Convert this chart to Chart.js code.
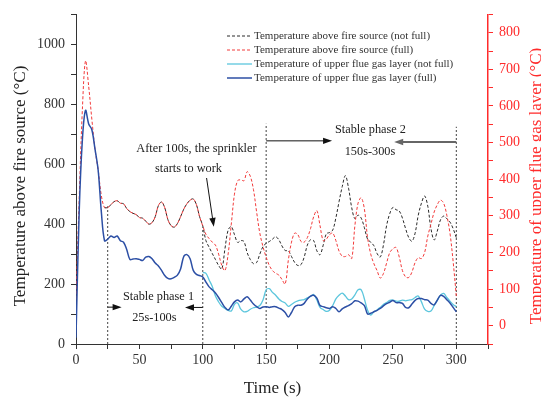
<!DOCTYPE html>
<html>
<head>
<meta charset="utf-8">
<script src="https://cdn.jsdelivr.net/npm/chart.js@4"></script>
<style>
  html, body { margin: 0; padding: 0; background: #fff; }
  #wrap { width: 541px; height: 398px; }
</style>
</head>
<body>
<div id="wrap"><canvas id="chart" width="541" height="398"></canvas></div>
<script>
// sampling times (s)
const time = [
  0, 2.5, 5, 7.5, 10, 12.5, 15, 17.5, 20, 22.5,
  25, 27.5, 30, 32.5, 35, 37.5, 40, 42.5, 45, 47.5,
  50, 52.5, 55, 57.5, 60, 62.5, 65, 67.5, 70, 72.5,
  75, 77.5, 80, 82.5, 85, 87.5, 90, 92.5, 95, 97.5,
  100, 102.5, 105, 107.5, 110, 112.5, 115, 117.5, 120, 122.5,
  125, 127.5, 130, 132.5, 135, 137.5, 140, 142.5, 145, 147.5,
  150, 152.5, 155, 157.5, 160, 162.5, 165, 167.5, 170, 172.5,
  175, 177.5, 180, 182.5, 185, 187.5, 190, 192.5, 195, 197.5,
  200, 202.5, 205, 207.5, 210, 212.5, 215, 217.5, 220, 222.5,
  225, 227.5, 230, 232.5, 235, 237.5, 240, 242.5, 245, 247.5,
  250, 252.5, 255, 257.5, 260, 262.5, 265, 267.5, 270, 272.5,
  275, 277.5, 280, 282.5, 285, 287.5, 290, 292.5, 295, 297.5,
  300
]

// temperature above fire source, left axis (°C)
const fireNotFull = [
  null, null, null, null, null, null, null, null, null, 455,
  455, 465, 475, 478, 470, 468, 452, 442, 436, 432,
  422, 420, 410, 400, 405, 425, 462, 474, 455, 415,
  395, 390, 402, 425, 450, 468, 480, 484, 465, 425,
  394, 345, 323, 302, 282, 262, 250, 318, 380, 392,
  365, 339, 345, 342, 305, 282, 268, 272, 300, 325,
  336, 342, 350, 358, 348, 327, 312, 311, 292, 272,
  262, 265, 290, 330, 348, 345, 311, 298, 330, 368,
  372, 380, 421, 475, 525, 562, 520, 455, 418, 430,
  420, 388, 350, 340, 328, 302, 290, 330, 395, 435,
  456, 448, 444, 420, 385, 355, 343, 370, 430, 470,
  494, 460, 385, 347, 377, 414, 427, 418, 407, 385,
  355
]
const fireFull = [
  150, 480, 780, 945, 860, 750, 650, 580, 495, 455,
  455, 465, 475, 478, 470, 468, 452, 442, 436, 432,
  422, 420, 410, 400, 405, 425, 462, 474, 455, 415,
  395, 390, 402, 425, 450, 468, 480, 484, 465, 425,
  394, 366, 352, 340, 330, 300, 262, 245, 300, 400,
  500, 545, 548, 545, 575, 560, 515, 440, 370, 325,
  290, 262, 245, 236, 230, 215, 200, 280, 340, 370,
  365, 342, 340, 355, 385, 425, 445, 395, 345, 350,
  365, 370, 345, 310, 293, 292, 298, 285, 395, 470,
  488, 450, 355, 300, 268, 245, 220, 235, 270, 305,
  318, 322, 290, 245, 224, 222, 240, 272, 288, 285,
  305, 360, 400, 440, 465, 480, 470, 430, 370, 275,
  160
]

// temperature of upper flue gas layer, right axis (°C)
const gasNotFull = [
  null, null, null, null, null, null, null, null, null, null,
  null, null, null, null, null, null, null, null, null, null,
  null, null, null, null, null, null, null, null, null, null,
  null, null, null, null, null, null, null, null, null, null,
  145, 143, 125, 107, 81, 65, 53, 47, 42, 40,
  58, 62, 45, 38, 39, 45, 49, 51, 55, 70,
  98, 101, 91, 83, 73, 66, 62, 53, 58, 64,
  68, 70, 71, 76, 80, 85, 70, 50, 44, 39,
  42, 55, 73, 83, 89, 81, 71, 73, 84, 98,
  98, 73, 42, 29, 38, 43, 50, 58, 63, 69,
  70, 67, 67, 70, 68, 70, 71, 77, 81, 65,
  45, 39, 40, 55, 69, 83, 88, 77, 67, 58,
  52
]
const gasFull = [
  -33, 310, 506, 588, 551, 535, 482, 424, 310, 232,
  236, 245, 241, 245, 232, 228, 208, 181, 182, 183,
  181, 178, 187, 189, 183, 171, 163, 151, 137, 129,
  128, 132, 138, 155, 189, 194, 183, 151, 140, 137,
  133, 119, 106, 98, 89, 77, 63, 50, 43, 53,
  65, 70, 65, 73, 79, 70, 59, 52, 47, 51,
  52, 50, 52, 52, 48, 44, 36, 24, 36, 52,
  56, 56, 61, 73, 81, 83, 75, 55, 52, 49,
  47, 52, 47, 38, 46, 51, 55, 60, 68, 67,
  62, 55, 32, 34, 38, 42, 47, 54, 60, 64,
  69, 63, 63, 61, 50, 49, 59, 69, 74, 74,
  71, 70, 61, 57, 70, 83, 80, 71, 62, 50,
  38
]

const seriesLabels = [
  'Temperature above fire source (not full)',
  'Temperature above fire source (full)',
  'Temperature of upper flue gas layer (not full)',
  'Temperature of upper flue gas layer (full)'
]

// phase boundaries: time and how high the dotted line goes (left axis)
const phaseTimes = [25, 100, 150, 300]
const phaseTops = [460, 390, 735, 725]

const serif = "'Liberation Serif', 'Times New Roman', serif"
const red = '#ff2b2b'
const ink = '#333'

const pts = (arr) => arr.map((v, i) => ({ x: time[i], y: v }))

const datasets = [
    {
        label: seriesLabels[0],
        data: pts(fireNotFull),
        borderColor: '#2a2a2a',
        borderDash: [3, 2],
        yAxisID: 'y',
        order: 4
    },
    {
        label: seriesLabels[1],
        data: pts(fireFull),
        borderColor: '#f23a3a',
        borderDash: [3, 2],
        yAxisID: 'y',
        order: 3
    },
    {
        label: seriesLabels[2],
        data: pts(gasNotFull),
        borderColor: '#5cc6dd',
        borderWidth: 1.3,
        yAxisID: 'y1',
        order: 2
    },
    {
        label: seriesLabels[3],
        data: pts(gasFull),
        borderColor: '#2c4fa5',
        borderWidth: 1.5,
        yAxisID: 'y1',
        order: 1
    }
]

phaseTimes.forEach((t, i) => {
    datasets.push({
        label: 'phase' + i,
        data: [{ x: t, y: 0 }, { x: t, y: phaseTops[i] }],
        borderColor: '#444',
        borderWidth: 1,
        borderDash: [2, 2],
        yAxisID: 'y',
        tension: 0,
        order: 5
    })
})

// text notes and arrows, positioned in data units of x / left y axis
const notes = [
    { text: 'After 100s, the sprinkler', x: 95, y: 652 },
    { text: 'starts to work', x: 88.7, y: 584 },
    { text: 'Stable phase 1', x: 65.1, y: 157 },
    { text: '25s-100s', x: 61.8, y: 88 },
    { text: 'Stable phase 2', x: 232.3, y: 714 },
    { text: '150s-300s', x: 231.9, y: 642 }
]
const arrows = [
    { from: [103, 554], to: [108.7, 391], color: '#111', width: 1 },
    { from: [25, 123], to: [36, 123], color: '#111', width: 1 },
    { from: [100, 122], to: [86, 122], color: '#111', width: 1 },
    { from: [150, 678], to: [202, 678], color: '#111', width: 1 },
    { from: [300, 674], to: [251, 674], color: '#666', width: 2 }
]

function drawArrow (ctx, x1, y1, x2, y2, color, width) {
    const ang = Math.atan2(y2 - y1, x2 - x1)
    const len = 9
    const half = 3.2
    ctx.strokeStyle = color
    ctx.fillStyle = color
    ctx.lineWidth = width
    ctx.beginPath()
    ctx.moveTo(x1, y1)
    ctx.lineTo(x2 - Math.cos(ang) * len * 0.8, y2 - Math.sin(ang) * len * 0.8)
    ctx.stroke()
    ctx.beginPath()
    ctx.moveTo(x2, y2)
    ctx.lineTo(x2 - Math.cos(ang) * len - Math.sin(ang) * half, y2 - Math.sin(ang) * len + Math.cos(ang) * half)
    ctx.lineTo(x2 - Math.cos(ang) * len + Math.sin(ang) * half, y2 - Math.sin(ang) * len - Math.cos(ang) * half)
    ctx.closePath()
    ctx.fill()
}

const extras = {
    id: 'extras',
    afterDatasetsDraw (chart) {
        const ctx = chart.ctx
        const xs = chart.scales.x
        const ys = chart.scales.y
        ctx.save()

        // notes
        ctx.fillStyle = '#222'
        ctx.font = '12.3px ' + serif
        ctx.textAlign = 'center'
        ctx.textBaseline = 'middle'
        notes.forEach(n => {
            ctx.fillText(n.text, xs.getPixelForValue(n.x), ys.getPixelForValue(n.y))
        })
        arrows.forEach(a => {
            drawArrow(ctx,
                xs.getPixelForValue(a.from[0]), ys.getPixelForValue(a.from[1]),
                xs.getPixelForValue(a.to[0]), ys.getPixelForValue(a.to[1]),
                a.color, a.width)
        })

        // legend
        ctx.font = '11px ' + serif
        ctx.textAlign = 'left'
        const rowY = [36, 50, 64, 78]
        for (let i = 0; i < 4; i++) {
            const ds = chart.data.datasets[i]
            ctx.strokeStyle = ds.borderColor
            ctx.lineWidth = ds.borderWidth || 1
            ctx.setLineDash(ds.borderDash || [])
            ctx.beginPath()
            ctx.moveTo(227, rowY[i])
            ctx.lineTo(252, rowY[i])
            ctx.stroke()
            ctx.setLineDash([])
            ctx.fillStyle = '#333'
            ctx.fillText(ds.label, 254, rowY[i])
        }

        // axis titles
        ctx.textAlign = 'center'
        ctx.font = '17px ' + serif
        ctx.fillStyle = '#222'
        ctx.fillText('Time (s)', 272.5, 389)

        ctx.save()
        ctx.translate(21, 186)
        ctx.rotate(-Math.PI / 2)
        ctx.fillText('Temperature above fire source (°C)', 0, 0)
        ctx.restore()

        ctx.save()
        ctx.translate(537, 186)
        ctx.rotate(-Math.PI / 2)
        ctx.fillStyle = red
        ctx.fillText('Temperature of upper flue gas layer (°C)', 0, 0)
        ctx.restore()

        ctx.restore()
    }
}

const tickFont = { family: serif, size: 14 }

const crt = document.getElementById('chart')

new Chart(crt, {
    type: 'line',
    data: { datasets: datasets },
    options: {
        responsive: false,
        animation: false,
        devicePixelRatio: 1,
        layout: { padding: { top: 12, left: 0, right: 0, bottom: 0 } },
        elements: {
            point: { radius: 0 },
            line: { borderWidth: 1, tension: 0.35, fill: false }
        },
        plugins: {
            legend: { display: false },
            tooltip: { enabled: false }
        },
        scales: {
            x: {
                type: 'linear',
                min: 0,
                max: 325,
                afterFit: (s) => { s.height = 54 },
                border: { color: ink, width: 1 },
                grid: { drawOnChartArea: false, drawTicks: true, tickLength: 5, color: ink },
                ticks: {
                    stepSize: 25,
                    autoSkip: false,
                    maxRotation: 0,
                    padding: 3,
                    color: ink,
                    font: tickFont,
                    callback: (v) => (v % 50 === 0 && v <= 300) ? v : ''
                }
            },
            y: {
                type: 'linear',
                position: 'left',
                min: 0,
                max: 1100,
                afterFit: (s) => { s.width = 76 },
                border: { color: ink, width: 1 },
                grid: { drawOnChartArea: false, drawTicks: true, tickLength: 5, color: ink },
                ticks: {
                    stepSize: 100,
                    autoSkip: false,
                    padding: 6,
                    color: ink,
                    font: tickFont,
                    callback: (v) => (v % 200 === 0 && v <= 1000) ? v : ''
                }
            },
            y1: {
                type: 'linear',
                position: 'right',
                min: -50,
                max: 850,
                afterFit: (s) => { s.width = 53 },
                border: { color: red, width: 1.5 },
                grid: { drawOnChartArea: false, drawTicks: true, tickLength: 5, color: red },
                ticks: {
                    stepSize: 50,
                    autoSkip: false,
                    padding: 6,
                    color: red,
                    font: tickFont,
                    callback: (v) => (v % 100 === 0 && v >= 0 && v <= 800) ? v : ''
                }
            }
        }
    },
    plugins: [extras]
})
</script>
</body>
</html>
